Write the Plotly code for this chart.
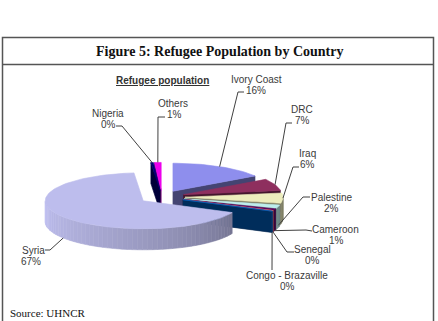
import numpy as np
import plotly.graph_objects as go

# ---------------- data ----------------
countries = ["Ivory Coast", "DRC", "Iraq", "Palestine", "Cameroon", "Senegal",
             "Congo - Brazaville", "Syria", "Nigeria", "Others"]
shares = [15.8, 6.8, 5.9, 2.0, 0.9, 0.3, 0.2, 66.6, 0.4, 1.1]
pct_labels = [f"{round(v)}%" for v in shares]
slice_colors = ["#9999FF", "#993366", "#FFFFCC", "#CCFFFF", "#660066", "#FF8080",
                "#0066CC", "#CCCCFF", "#000080", "#FF00FF"]

# ---------------- layout / geometry (pixel space) ----------------
W, H = 438, 321
CX, CY = 162, 197          # pie centre
RA, RB = 98, 28            # ellipse radii (horizontal, vertical)
DEPTH = 21                 # thickness of pie
EXPLODE = 23               # explosion distance
K = RB / RA

# label placement: name centre, pct centre, anchor at label, elbow
label_pos = {
    "Ivory Coast": ((256, 79), (256, 90), (244, 92), (238, 92)),
    "DRC": ((302, 109), (302, 120), (292, 123), (286, 123)),
    "Iraq": ((307, 153), (307, 164), (299, 167), (293, 167)),
    "Palestine": ((332, 197), (331, 208), (310, 197), (303, 197)),
    "Cameroon": ((335, 229), (336, 240), (312, 231), (306, 230)),
    "Senegal": ((312, 249), (312, 260), (294, 252), (287, 252)),
    "Congo - Brazaville": ((287, 275), (287, 286), (272, 270), (272, 270)),
    "Syria": ((33, 250), (31, 261), (45, 250), (50, 250)),
    "Nigeria": ((108, 113), (108, 124), (116, 126), (122, 126)),
    "Others": ((173, 103), (174, 114), (165, 117), (158, 117)),
}


def shade(hexcol, f):
    h = hexcol.lstrip("#")
    r, g, b = (int(h[i:i + 2], 16) for i in (0, 2, 4))
    return "rgb(%d,%d,%d)" % (r * f, g * f, b * f)


def rim(theta, ox, oy):
    t = np.radians(theta)
    return ox + RA * np.sin(t), oy - RB * np.cos(t)


total = sum(shares)
cum = np.concatenate([[0], np.cumsum(shares)]) / total * 360.0

slices = []
for i, name in enumerate(countries):
    s, e = cum[i], cum[i + 1]
    m = (s + e) / 2
    tm = np.radians(m)
    ax = CX + EXPLODE * np.sin(tm)
    ay = CY - EXPLODE * K * np.cos(tm)
    slices.append(dict(i=i, name=name, s=s, e=e, m=m, ax=ax, ay=ay))

fig = go.Figure()


def poly(xs, ys, color):
    xs = list(xs) + [xs[0]]
    ys = list(ys) + [ys[0]]
    fig.add_trace(go.Scatter(x=xs, y=ys, mode="lines", fill="toself",
                             fillcolor=color, line=dict(color=color, width=0.6),
                             hoverinfo="skip", showlegend=False))


order = sorted(slices, key=lambda d: -np.cos(np.radians(d["m"])))
for sl in order:
    col = slice_colors[sl["i"]]
    ax, ay = sl["ax"], sl["ay"]
    s, e = sl["s"], sl["e"]
    # radial faces
    faces = []
    if 0 < e < 180:
        faces.append(e)
    if 180 < s < 360:
        faces.append(s)
    for th in faces:
        rx, ry = rim(th, ax, ay)
        poly([ax, rx, rx, ax], [ay, ry, ry + DEPTH, ay + DEPTH], shade(col, 0.45))
    # outer wall (front half)
    lo, hi = max(s, 90), min(e, 270)
    if hi > lo:
        n = max(1, int(np.ceil((hi - lo) / 3)))
        edges = np.linspace(lo, hi, n + 1)
        for t0, t1 in zip(edges[:-1], edges[1:]):
            tmid = (t0 + t1) / 2
            f = 0.45 + 0.5 * ((tmid - 90) / 180) ** 0.7
            x0, y0 = rim(t0, ax, ay)
            x1, y1 = rim(t1, ax, ay)
            poly([x0, x1, x1, x0], [y0, y1, y1 + DEPTH, y0 + DEPTH], shade(col, f))
    # top face
    n = max(2, int((e - s) / 2) + 2)
    th = np.linspace(s, e, n)
    xs, ys = rim(th, ax, ay)
    poly([ax] + list(xs), [ay] + list(ys), shade(col, 0.93))

# leader lines + labels
annotations = []
lab_font = dict(family="Liberation Sans, Arial, sans-serif", size=10, color="#3a3a3a")
for sl in slices:
    name = sl["name"]
    (nx, ny), (px, py), (anx, any_), (elx, ely) = label_pos[name]
    ex, ey = rim(sl["m"], sl["ax"], sl["ay"])
    c = -np.cos(np.radians(sl["m"]))
    ey = ey + DEPTH * float(np.clip((c - 0.1) * 5, 0, 1))
    fig.add_trace(go.Scatter(x=[anx, elx, ex], y=[any_, ely, ey], mode="lines",
                             line=dict(color="#404040", width=1),
                             hoverinfo="skip", showlegend=False))
    annotations.append(dict(x=nx, y=ny, text=name, showarrow=False, font=lab_font,
                            xanchor="center", yanchor="middle", borderpad=0))
    annotations.append(dict(x=px, y=py, text=pct_labels[sl["i"]], showarrow=False,
                            font=lab_font, xanchor="center", yanchor="middle", borderpad=0))

annotations.append(dict(x=162, y=80, text="<b><u>Refugee population</u></b>", showarrow=False,
                        font=dict(family="Liberation Sans, Arial, sans-serif", size=10,
                                  color="#333333"),
                        xanchor="center", yanchor="middle"))
annotations.append(dict(x=219, y=51, text="<b>Figure 5: Refugee Population by Country</b>",
                        showarrow=False,
                        font=dict(family="Liberation Serif, Times New Roman, serif", size=14,
                                  color="#111111"),
                        xanchor="center", yanchor="middle"))
annotations.append(dict(x=8, y=313, text="Source: UHNCR", showarrow=False,
                        font=dict(family="Liberation Serif, Times New Roman, serif", size=11,
                                  color="#111111"),
                        xanchor="left", yanchor="middle"))

shapes = [
    dict(type="rect", xref="x", yref="y", x0=2.5, x1=433.5, y0=37.5, y1=335,
         line=dict(color="#555555", width=1.5)),
    dict(type="line", xref="x", yref="y", x0=2.5, x1=433.5, y0=64.5, y1=64.5,
         line=dict(color="#555555", width=1.5)),
]

fig.update_layout(
    width=W, height=H, margin=dict(l=0, r=0, t=0, b=0),
    paper_bgcolor="white", plot_bgcolor="white",
    xaxis=dict(range=[0, W], visible=False, fixedrange=True),
    yaxis=dict(range=[H, 0], visible=False, fixedrange=True),
    annotations=annotations, shapes=shapes, showlegend=False,
)

fig.write_html("out.html")
